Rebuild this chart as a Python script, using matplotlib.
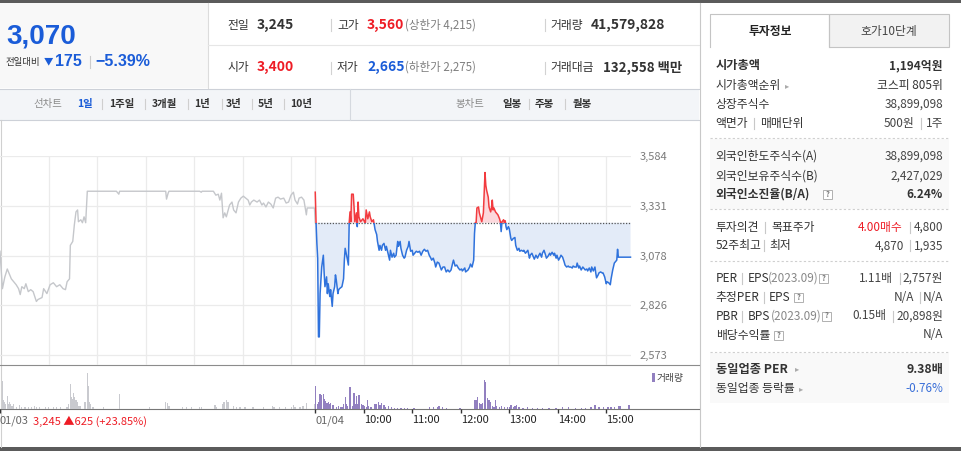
import matplotlib.pyplot as plt
from matplotlib import font_manager
from matplotlib.patches import Rectangle

plt.rcParams['font.family'] = ['Noto Sans CJK KR', 'DejaVu Sans']

installed = {f.name for f in font_manager.fontManager.ttflist}
NARROW = 'Liberation Sans Narrow' if 'Liberation Sans Narrow' in installed else 'Liberation Sans'
BIG_SIZE = 23.5 if NARROW == 'Liberation Sans Narrow' else 20

# ---- data ----
PREV_CLOSE = 3245

# 01/03 minute line (minutes after 09:00, price)
prev_minutes = [0, 3, 6, 9, 12, 14, 17, 20, 23, 25, 27, 30, 32, 35, 38, 41, 45, 47, 52, 54,
                58, 62, 66, 70, 74, 78, 81, 83, 86, 87, 90, 92, 94, 96, 97, 100, 102, 104, 106, 108,
                144, 147, 148, 205, 206, 208, 209, 247, 249, 250, 264, 267, 270, 272, 274, 276, 278, 280, 284, 287,
                289, 292, 295, 298, 301, 304, 307, 309, 311, 314, 318, 321, 324, 326, 329, 332, 335, 338, 341, 344,
                347, 351, 354, 357, 360, 363, 365, 368, 370, 373, 376, 379, 380, 389, 390]
prev_prices = [3100, 2910, 2970, 3010, 2980, 2960, 2945, 2930, 2910, 2880, 2920, 2910, 2935, 2895, 2905, 2895, 2845, 2855, 2865, 2910,
               2885, 2930, 2940, 2920, 2930, 2910, 2905, 2945, 2960, 3130, 3150, 3235, 3300, 3310, 3250, 3260, 3245, 3275, 3245, 3405,
               3405, 3390, 3405, 3405, 3365, 3395, 3405, 3405, 3400, 3405, 3405, 3385, 3390, 3360, 3395, 3270, 3295, 3275, 3335, 3350,
               3310, 3295, 3350, 3370, 3380, 3370, 3360, 3335, 3350, 3360, 3350, 3360, 3335, 3345, 3325, 3350, 3340, 3320, 3370, 3375,
               3365, 3370, 3345, 3350, 3385, 3400, 3360, 3340, 3370, 3375, 3360, 3285, 3320, 3320, 3245]

# 01/04 minute line (minutes after 09:00, price)
today_minutes = [0, 1, 2, 3, 4, 5, 6, 8, 10, 11, 12, 14, 15, 16, 18, 19, 21, 22, 24, 25,
                 26, 28, 29, 30, 33, 35, 36, 37, 39, 41, 42, 43, 44, 45, 47, 48, 49, 51, 52, 53,
                 54, 56, 58, 59, 61, 62, 63, 65, 67, 68, 70, 72, 73, 74, 76, 77, 79, 80, 82, 83,
                 85, 87, 88, 90, 92, 93, 95, 97, 98, 100, 102, 103, 105, 106, 108, 110, 111, 113, 115, 116,
                 118, 120, 121, 123, 125, 127, 129, 131, 133, 135, 137, 139, 141, 143, 144, 146, 148, 149, 151, 153,
                 156, 158, 160, 162, 164, 166, 168, 170, 171, 173, 175, 177, 179, 181, 182, 185, 186, 189, 191, 192,
                 194, 196, 197, 198, 199, 200, 202, 203, 205, 206, 208, 209, 210, 211, 212, 214, 215, 217, 218, 219,
                 220, 221, 223, 224, 226, 228, 229, 230, 231, 233, 234, 235, 236, 237, 239, 240, 242, 243, 245, 247,
                 248, 250, 252, 253, 255, 257, 258, 260, 262, 263, 265, 266, 268, 270, 271, 273, 275, 276, 278, 280,
                 281, 283, 285, 286, 288, 290, 291, 293, 295, 296, 298, 299, 301, 303, 304, 306, 308, 309, 311, 313,
                 314, 316, 318, 319, 321, 323, 324, 326, 327, 329, 331, 332, 334, 336, 337, 339, 341, 342, 344, 346,
                 347, 348, 350, 351, 353, 355, 356, 358, 360, 361, 363, 365, 366, 368, 370, 371, 373, 374, 375, 380,
                 390]
today_prices = [3400, 3245, 3140, 3065, 2665, 2665, 2885, 3020, 3080, 2990, 2920, 2970, 2885, 2935, 2870, 2905, 2820, 2885, 2920, 2980,
                2955, 2885, 2905, 2910, 2920, 2960, 3055, 3115, 3075, 3030, 3245, 3300, 3250, 3390, 3390, 3325, 3250, 3295, 3225, 3350,
                3275, 3250, 3260, 3265, 3250, 3245, 3310, 3265, 3300, 3275, 3250, 3260, 3235, 3210, 3185, 3150, 3105, 3130, 3105, 3130,
                3140, 3105, 3125, 3090, 3055, 3105, 3070, 3090, 3070, 3080, 3150, 3125, 3150, 3115, 3080, 3065, 3070, 3105, 3125, 3150,
                3100, 3105, 3080, 3090, 3100, 3095, 3100, 3080, 3100, 3110, 3100, 3105, 3080, 3065, 3055, 3065, 3040, 3020, 3045, 3040,
                3005, 3020, 3020, 2995, 3005, 2995, 3005, 3040, 3055, 3025, 3030, 3015, 3005, 3010, 3000, 3015, 2995, 3005, 3020, 3035,
                3020, 3055, 3190, 3245, 3245, 3320, 3325, 3295, 3265, 3250, 3295, 3395, 3500, 3435, 3410, 3375, 3325, 3300, 3320, 3360,
                3310, 3320, 3300, 3295, 3285, 3265, 3250, 3200, 3250, 3260, 3245, 3255, 3225, 3210, 3225, 3215, 3165, 3155, 3165, 3170,
                3130, 3105, 3115, 3100, 3105, 3100, 3105, 3090, 3100, 3105, 3065, 3080, 3090, 3070, 3060, 3080, 3065, 3075, 3090, 3070,
                3090, 3105, 3080, 3065, 3075, 3090, 3080, 3095, 3080, 3090, 3065, 3080, 3055, 3070, 3080, 3070, 3045, 3030, 3020, 3025,
                3020, 3020, 3015, 3025, 3020, 3020, 3040, 3015, 3025, 3005, 3020, 3015, 3005, 3010, 3000, 3015, 2995, 3020, 3000, 3020,
                2990, 2965, 2980, 2990, 2995, 2990, 2990, 2970, 2935, 2945, 2940, 2930, 2960, 3005, 3040, 3045, 3055, 3110, 3070, 3070,
                3070]

# traded volume per minute (bar height, relative units)
prev_vol_minutes = [3, 4, 5, 7, 9, 10, 12, 13, 15, 17, 20, 24, 27, 31, 35, 39, 43, 45, 49, 56,
                    60, 66, 70, 75, 83, 85, 87, 88, 89, 91, 92, 94, 96, 97, 99, 105, 106, 108, 109, 110,
                    112, 115, 128, 148, 185, 205, 207, 209, 226, 231, 237, 247, 249, 266, 268, 275, 277, 280, 282, 289,
                    293, 297, 303, 313, 326, 337, 339, 346, 353, 361, 363, 365, 371, 375, 379, 389]
prev_volume = [283, 90, 67, 50, 133, 50, 67, 50, 33, 50, 23, 40, 23, 23, 23, 17, 33, 23, 17, 17,
               17, 23, 17, 17, 23, 50, 250, 117, 100, 157, 117, 90, 67, 33, 33, 67, 73, 360, 233, 67,
               50, 23, 23, 150, 17, 73, 57, 33, 17, 17, 17, 17, 23, 43, 23, 50, 67, 90, 67, 33,
               23, 17, 17, 17, 17, 33, 23, 17, 17, 23, 43, 17, 23, 33, 60, 50]
today_vol_minutes = [0, 3, 4, 6, 7, 8, 10, 11, 12, 14, 15, 16, 18, 19, 21, 23, 26, 29, 32, 34,
                     35, 37, 39, 40, 42, 43, 44, 46, 48, 49, 51, 52, 54, 55, 57, 59, 61, 63, 65, 66,
                     69, 73, 75, 78, 80, 82, 84, 85, 87, 91, 94, 98, 102, 106, 110, 114, 122, 141, 146, 151,
                     153, 157, 162, 179, 197, 199, 201, 203, 205, 207, 209, 210, 211, 213, 215, 217, 219, 221, 223, 224,
                     228, 230, 234, 238, 240, 242, 245, 247, 249, 252, 257, 263, 269, 275, 281, 289, 298, 306, 313, 322,
                     329, 334, 341, 346, 351, 357, 362, 366, 370, 375, 377, 388]
today_volume = [233, 50, 67, 150, 100, 143, 150, 100, 83, 57, 57, 67, 50, 57, 40, 43, 23, 33, 17, 23,
                50, 123, 50, 33, 200, 223, 123, 33, 157, 50, 133, 50, 143, 67, 50, 43, 33, 23, 90, 33,
                23, 50, 50, 73, 40, 57, 33, 40, 23, 33, 17, 10, 13, 13, 13, 13, 10, 23, 17, 23,
                33, 17, 13, 13, 90, 90, 123, 57, 50, 57, 290, 267, 117, 107, 90, 67, 33, 23, 90, 33,
                23, 33, 23, 23, 23, 40, 23, 33, 40, 17, 13, 17, 13, 13, 13, 13, 13, 17, 23, 13,
                13, 13, 23, 43, 17, 23, 17, 17, 17, 33, 33, 40]

price_ticks = [2573, 2826, 3078, 3331, 3584]
time_ticks = [0, 390, 450, 510, 570, 630, 690, 750]
time_labels = ['01/03', '01/04', '10:00', '11:00', '12:00', '13:00', '14:00', '15:00']
grid_minutes = [60, 120, 180, 240, 300, 360, 390, 450, 510, 570, 630, 690, 750]

RED = '#ee1c25'
BLUE = '#1a5cd8'
LINE_RED = '#f23b3f'
LINE_BLUE = '#2f72dc'
FILL_RED = '#fcd8dc'
FILL_BLUE = '#e3ebf8'
GRAY_LINE = '#c5c7cb'
VOL_GRAY = '#c9cacf'
VOL_PURPLE = '#9280c0'
TXT = '#333333'

W, H = 961, 451
fig = plt.figure(figsize=(W / 100, H / 100), dpi=100)
bg = fig.add_axes([0, 0, 1, 1])
bg.set_xlim(0, W)
bg.set_ylim(H, 0)
bg.axis('off')


def rect(x0, y0, x1, y1, fc, ec='none', lw=0.8):
    bg.add_patch(Rectangle((x0, y0), x1 - x0, y1 - y0, facecolor=fc, edgecolor=ec, linewidth=lw))


def hline(y, x0, x1, color, lw=0.8, ls='-'):
    bg.plot([x0, x1], [y, y], color=color, lw=lw, ls=ls)


def vline(x, y0, y1, color='#d2d2d2', lw=0.8):
    bg.plot([x, x], [y0, y1], color=color, lw=lw)


def txt(x, y, s, size=8.5, color=TXT, ha='left', bold=False, family=None):
    kw = {'family': family} if family else {}
    bg.text(x, y, s, fontsize=size, color=color, ha=ha, va='center',
            fontweight='bold' if bold else 'normal', **kw)


def qbox(x0, y):
    rect(x0, y - 4.5, x0 + 9, y + 4.5, 'white', ec='#b0b0b0', lw=0.7)
    txt(x0 + 4.5, y, '?', size=5.5, color='#777', ha='center', bold=True)


# ---- frame ----
rect(0, 0, W, 3, '#5b5b5b')
rect(0, 447, W, H, '#5b5b5b')
rect(0, 3, 208, 88, '#f8f8f8')
vline(208, 3, 88, '#dcdcdc')
hline(45, 208, 699, '#e6e6e6')
rect(0, 88.5, 699, 119.5, '#f3f5f8')
hline(88.5, 0, 699, '#cdd1d8')
hline(119.5, 0, 699, '#cdd1d8')
vline(350, 88.5, 119.5, '#d5d9df')
vline(699.5, 3, 447, '#c8c8c8')
vline(0.5, 119.5, 447, '#d0d0d0')
hline(365, 0, 699, '#8c8c8c')
hline(409, 0, 699, '#777777')

# ---- current price box ----
txt(6, 37, '3,070', size=BIG_SIZE, color=BLUE, bold=True, family=NARROW)
txt(6, 63, '전일대비', size=6.8)
txt(44, 62, '▼', size=6.8, color=BLUE)
txt(55, 62, '175', size=11.5, color=BLUE, bold=True, family='Liberation Sans')
vline(89.5, 56, 68, '#cccccc')
txt(95, 62, '−5.39%', size=11.5, color=BLUE, bold=True, family='Liberation Sans')

# ---- summary rows ----
for y, (l1, v1, c1), (l2, v2, c2, note), (l3, v3) in [
        (25, ('전일', '3,245', TXT), ('고가', '3,560', RED, '(상한가 4,215)'), ('거래량', '41,579,828')),
        (67.5, ('시가', '3,400', RED), ('저가', '2,665', BLUE, '(하한가 2,275)'), ('거래대금', '132,558 백만'))]:
    txt(227, y, l1)
    txt(257, y, v1, size=10, color=c1, bold=True)
    vline(331, y - 6, y + 6)
    txt(337, y, l2)
    txt(367, y, v2, size=10, color=c2, bold=True)
    txt(405, y, note, size=8.3, color='#808080')
    vline(545, y - 6, y + 6)
    txt(550, y, l3)
    txt(591 if l3 == '거래량' else 603, y, v3, size=10 if l3 == '거래량' else 9.6, bold=True)

# ---- chart tabs ----
ty = 104
txt(33, ty, '선차트', size=7.5, color='#8a8a8a')
for label, x in [('1일', 77), ('1주일', 109), ('3개월', 152), ('1년', 194), ('3년', 226), ('5년', 258), ('10년', 290)]:
    txt(x, ty, label, size=7.5, color=BLUE if label == '1일' else '#333', bold=True)
for x in [102, 145, 187.5, 222, 252, 284, 529, 565]:
    vline(x, ty - 5, ty + 5, '#cfcfcf')
txt(455, ty, '봉차트', size=7.5, color='#8a8a8a')
for label, x in [('일봉', 502), ('주봉', 535), ('월봉', 573)]:
    txt(x, ty, label, size=7.5, bold=True)

# ---- price chart ----
XMAX = 780
CH_R = 630.5
ax = fig.add_axes([0, 1 - 365 / H, CH_R / W, (365 - 156) / H])
ax.set_facecolor('none')
ax.set_xlim(0, XMAX)
ax.set_ylim(2522.2, 3584)
for s in ax.spines.values():
    s.set_visible(False)
ax.set_xticks(grid_minutes)
ax.tick_params(axis='x', length=0, labelbottom=False)
ax.yaxis.tick_right()
ax.set_yticks(price_ticks)
ax.set_yticklabels([f'{v:,}' for v in price_ticks])
ax.tick_params(axis='y', length=0, pad=6.3, labelsize=8, labelcolor='#7a7a7a')
ax.grid(True, color='#ebebeb', lw=0.9)
ax.set_axisbelow(True)

ax.plot(prev_minutes, prev_prices, color=GRAY_LINE, lw=1)

tx = [390 + m for m in today_minutes]
ax.fill_between(tx, today_prices, PREV_CLOSE, where=[p >= PREV_CLOSE for p in today_prices],
                interpolate=True, facecolor=FILL_RED, lw=0, zorder=2)
ax.fill_between(tx, today_prices, PREV_CLOSE, where=[p <= PREV_CLOSE for p in today_prices],
                interpolate=True, facecolor=FILL_BLUE, lw=0, zorder=2)
ax.plot([390, XMAX], [PREV_CLOSE, PREV_CLOSE], color='#555555', lw=0.9, ls=(0, (1, 1.3)), zorder=3)
up, = ax.plot(tx, today_prices, color=LINE_RED, lw=1.1, zorder=4)
down, = ax.plot(tx, today_prices, color=LINE_BLUE, lw=1.1, zorder=4)
up.set_clip_path(Rectangle((380, PREV_CLOSE), 420, 2000, transform=ax.transData))
down.set_clip_path(Rectangle((380, PREV_CLOSE - 2000), 420, 2000, transform=ax.transData))

# ---- volume ----
vax = fig.add_axes([0, 1 - 409 / H, CH_R / W, (409 - 366) / H])
vax.set_facecolor('none')
vax.set_xlim(0, XMAX)
vax.set_ylim(0, 430)
vax.bar(prev_vol_minutes, prev_volume, width=1.6, color=VOL_GRAY, lw=0)
vax.bar([390 + m for m in today_vol_minutes], today_volume, width=1.6, color=VOL_PURPLE, lw=0)
for s in vax.spines.values():
    s.set_visible(False)
vax.set_yticks([])
vax.set_xticks(time_ticks)
vax.set_xticklabels(time_labels)
vax.tick_params(axis='x', length=3, width=1, color='#333', pad=1.5, labelsize=8)
for lbl, name in zip(vax.get_xticklabels(), time_labels):
    lbl.set_ha('left')
    lbl.set_color('#666' if '/' in name else '#222')

txt(33, 421, '3,245 ▲625 (+23.85%)', size=8, color=RED)
rect(651.5, 373, 654.5, 382, VOL_PURPLE)
txt(657, 377.5, '거래량', size=7, color='#444')

# ---- investment info panel ----
rect(710, 14, 829, 47, 'white')
bg.plot([710, 710, 829, 829], [47, 14, 14, 47], color='#c4c4c4', lw=0.8)
rect(829, 14, 949, 47, '#f2f2f2', ec='#c4c4c4')
txt(770, 31, '투자정보', size=8.5, bold=True, ha='center', color='#222')
txt(889, 31, '호가10단계', size=8.5, ha='center', color='#444')

LX, RX = 715.7, 943
SEP = '#c8c8c8'
rect(710, 138.5, 949, 209, '#f9f9f9')
rect(710, 352.5, 949, 403, '#f9f9f9')
for y in [137.7, 209.3, 261, 351.7]:
    hline(y, 710, 949, '#cfcfcf', lw=0.8, ls=(0, (2, 2)))

txt(LX, 65.7, '시가총액', size=8.8, bold=True)
txt(RX, 65.7, '1,194억원', size=8.5, bold=True, ha='right')
txt(LX, 85.7, '시가총액순위')
txt(785, 85.7, '▸', size=6, color='#aaa')
txt(RX, 85.7, '코스피 805위', ha='right')
txt(LX, 104.3, '상장주식수')
txt(RX, 104.3, '38,899,098', ha='right', color='#444')
txt(LX, 123.3, '액면가')
vline(754, 118, 129, SEP)
txt(760, 123.3, '매매단위')
txt(914, 123.3, '500원', ha='right', color='#444')
vline(921, 118, 129, SEP)
txt(RX, 123.3, '1주', ha='right', color='#444')

txt(LX, 156, '외국인한도주식수(A)')
txt(RX, 156, '38,899,098', ha='right', color='#444')
txt(LX, 175.7, '외국인보유주식수(B)')
txt(RX, 175.7, '2,427,029', ha='right', color='#444')
txt(LX, 194.3, '외국인소진율(B/A)', size=8.5, bold=True)
qbox(822.7, 194.3)
txt(RX, 194.3, '6.24%', ha='right', bold=True)

txt(LX, 227, '투자의견')
vline(765, 221.5, 232.5, SEP)
txt(771, 227, '목표주가')
txt(903, 227, '4.00매수', ha='right', color=RED)
vline(910, 221.5, 232.5, SEP)
txt(RX, 227, '4,800', ha='right', color='#444')
txt(LX, 245.7, '52주최고')
vline(764, 240, 251, SEP)
txt(769, 245.7, '최저')
txt(904, 245.7, '4,870', ha='right', color='#444')
vline(910, 240, 251, SEP)
txt(RX, 245.7, '1,935', ha='right', color='#444')

txt(LX, 278.3, 'PER')
vline(742.3, 273, 284, SEP)
txt(747.3, 278.3, 'EPS')
txt(767.7, 278.3, '(2023.09)', color='#888')
qbox(819, 278.3)
txt(893, 278.3, '1.11배', ha='right', color='#444')
vline(900, 273, 284, SEP)
txt(RX, 278.3, '2,757원', ha='right', color='#444')

txt(LX, 297.3, '추정PER')
vline(764, 292, 303, SEP)
txt(769, 297.3, 'EPS')
qbox(793.7, 297.3)
txt(914, 297.3, 'N/A', ha='right', color='#444')
vline(920, 292, 303, SEP)
txt(RX, 297.3, 'N/A', ha='right', color='#444')

txt(LX, 316, 'PBR')
vline(742.3, 310.5, 321.5, SEP)
txt(747.3, 316, 'BPS')
txt(770.7, 316, '(2023.09)', color='#888')
qbox(821.7, 316)
txt(886.7, 316, '0.15배', ha='right', color='#444')
vline(893.3, 310.5, 321.5, SEP)
txt(RX, 316, '20,898원', ha='right', color='#444')

txt(LX, 335, '배당수익률')
qbox(773.7, 335)
txt(RX, 335, 'N/A', ha='right', color='#444')

txt(LX, 369, '동일업종 PER', size=8.8, bold=True)
txt(795, 369, '▸', size=6, color='#aaa')
txt(RX, 369, '9.38배', size=8.8, bold=True, ha='right')
txt(LX, 388.3, '동일업종 등락률')
txt(799.3, 388.3, '▸', size=6, color='#aaa')
txt(RX, 388.3, '-0.76%', ha='right', color='#3a6fd8')

fig.savefig('out.png', dpi=100)
